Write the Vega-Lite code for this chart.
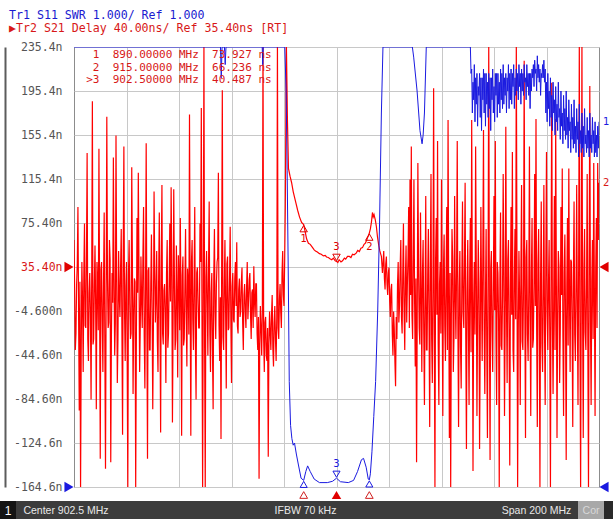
{
  "$schema": "https://vega.github.io/schema/vega-lite/v6.json",
  "background": "white",
  "padding": {"top": 10, "left": 0, "right": 0, "bottom": 0},
  "title": {
    "text": "\u00a0Tr1 S11 SWR 1.000/ Ref 1.000",
    "subtitle": "\u25b6Tr2 S21 Delay 40.00ns/ Ref 35.40ns [RT]",
    "anchor": "start", "frame": "group", "dx": 9, "offset": 6,
    "font": "DejaVu Sans Mono", "fontSize": 11.6, "fontWeight": "normal", "color": "#1a1ad0",
    "subtitleFont": "DejaVu Sans Mono", "subtitleFontSize": 11.6, "subtitleColor": "#d81818", "subtitlePadding": 1.4
  },
  "datasets": {
    "red": [
      {"f":802.5,"v":60},{"f":802.75,"v":15},{"f":803,"v":-40},{"f":803.25,"v":-25},{"f":803.5,"v":20},{"f":803.75,"v":38},{"f":804,"v":90},{"f":804.25,"v":-8},{"f":804.5,"v":-95},{"f":804.75,"v":22},
      {"f":805,"v":-165},{"f":805.25,"v":-40},{"f":805.5,"v":40},{"f":805.75,"v":5},{"f":806,"v":-60},{"f":806.25,"v":30},{"f":806.5,"v":75},{"f":806.75,"v":-18},{"f":807,"v":-20},{"f":807.25,"v":45},
      {"f":807.5,"v":139},{"f":807.75,"v":-30},{"f":808,"v":-50},{"f":808.25,"v":12},{"f":808.5,"v":30},{"f":808.75,"v":-5},{"f":809,"v":-85},{"f":809.25,"v":28},{"f":809.5,"v":186},{"f":809.75,"v":-35},
      {"f":810,"v":-30},{"f":810.25,"v":18},{"f":810.5,"v":55},{"f":810.75,"v":0},{"f":811,"v":-94},{"f":811.25,"v":40},{"f":811.5,"v":20},{"f":811.75,"v":-22},{"f":812,"v":143},{"f":812.25,"v":8},
      {"f":812.5,"v":-139},{"f":812.75,"v":33},{"f":813,"v":40},{"f":813.25,"v":-12},{"f":813.5,"v":-60},{"f":813.75,"v":20},{"f":814,"v":85},{"f":814.25,"v":-38},{"f":814.5,"v":-148},{"f":814.75,"v":10},
      {"f":815,"v":172},{"f":815.25,"v":25},{"f":815.5,"v":-20},{"f":815.75,"v":-15},{"f":816,"v":60},{"f":816.25,"v":42},{"f":816.5,"v":-142},{"f":816.75,"v":-28},{"f":817,"v":30},{"f":817.25,"v":3},
      {"f":817.5,"v":135},{"f":817.75,"v":25},{"f":818,"v":-45},{"f":818.25,"v":-15},{"f":818.5,"v":155},{"f":818.75,"v":30},{"f":819,"v":-70},{"f":819.25,"v":-30},{"f":819.5,"v":50},{"f":819.75,"v":10},
      {"f":820,"v":-10},{"f":820.25,"v":35},{"f":820.5,"v":70},{"f":820.75,"v":-20},{"f":821,"v":-117},{"f":821.25,"v":48},{"f":821.5,"v":145},{"f":821.75,"v":-5},{"f":822,"v":-50},{"f":822.25,"v":18},
      {"f":822.5,"v":40},{"f":822.75,"v":-42},{"f":823,"v":-165},{"f":823.25,"v":28},{"f":823.5,"v":60},{"f":823.75,"v":2},{"f":824,"v":-30},{"f":824.25,"v":-25},{"f":824.5,"v":126},{"f":824.75,"v":40},
      {"f":825,"v":-80},{"f":825.25,"v":-10},{"f":825.5,"v":25},{"f":825.75,"v":22},{"f":826,"v":-165},{"f":826.25,"v":-35},{"f":826.5,"v":80},{"f":826.75,"v":12},{"f":827,"v":121},{"f":827.25,"v":36},
      {"f":827.5,"v":-60},{"f":827.75,"v":-18},{"f":828,"v":45},{"f":828.25,"v":5},{"f":828.5,"v":-20},{"f":828.75,"v":44},{"f":829,"v":90},{"f":829.25,"v":-28},{"f":829.5,"v":-75},{"f":829.75,"v":16},
      {"f":830,"v":148},{"f":830.25,"v":-8},{"f":830.5,"v":-139},{"f":830.75,"v":32},{"f":831,"v":35},{"f":831.25,"v":-40},{"f":831.5,"v":-40},{"f":831.75,"v":20},{"f":832,"v":65},{"f":832.25,"v":-2},
      {"f":832.5,"v":-94},{"f":832.75,"v":-20},{"f":833,"v":104},{"f":833.25,"v":35},{"f":833.5,"v":-15},{"f":833.75,"v":8},{"f":834,"v":50},{"f":834.25,"v":-32},{"f":834.5,"v":-60},{"f":834.75,"v":26},
      {"f":835,"v":85},{"f":835.25,"v":-12},{"f":835.5,"v":-115},{"f":835.75,"v":42},{"f":836,"v":110},{"f":836.25,"v":-25},{"f":836.5,"v":-35},{"f":836.75,"v":14},{"f":837,"v":20},{"f":837.25,"v":-6},
      {"f":837.5,"v":-70},{"f":837.75,"v":30},{"f":838,"v":60},{"f":838.25,"v":-38},{"f":838.5,"v":-25},{"f":838.75,"v":20},{"f":839,"v":75},{"f":839.25,"v":4},{"f":839.5,"v":108},{"f":839.75,"v":38},
      {"f":840,"v":-106},{"f":840.25,"v":-16},{"f":840.5,"v":106},{"f":840.75,"v":24},{"f":841,"v":-40},{"f":841.25,"v":-30},{"f":841.5,"v":55},{"f":841.75,"v":10},{"f":842,"v":-65},{"f":842.25,"v":46},
      {"f":842.5,"v":30},{"f":842.75,"v":-22},{"f":843,"v":80},{"f":843.25,"v":6},{"f":843.5,"v":-118},{"f":843.75,"v":28},{"f":844,"v":45},{"f":844.25,"v":-36},{"f":844.5,"v":-30},{"f":844.75,"v":18},
      {"f":845,"v":70},{"f":845.25,"v":-10},{"f":845.5,"v":-55},{"f":845.75,"v":34},{"f":846,"v":20},{"f":846.25,"v":-26},{"f":846.5,"v":174},{"f":846.75,"v":12},{"f":847,"v":-118},{"f":847.25,"v":40},
      {"f":847.5,"v":60},{"f":847.75,"v":-12},{"f":848,"v":-40},{"f":848.25,"v":22},{"f":848.5,"v":90},{"f":848.75,"v":-34},{"f":849,"v":-85},{"f":849.25,"v":30},{"f":849.5,"v":35},{"f":849.75,"v":6},
      {"f":850,"v":-20},{"f":850.25,"v":-20},{"f":850.5,"v":75},{"f":850.75,"v":40},{"f":851,"v":180},{"f":851.25,"v":-8},{"f":851.5,"v":-165},{"f":851.75,"v":16},{"f":852,"v":240},{"f":852.25,"v":-30},
      {"f":852.5,"v":-165},{"f":852.75,"v":26},{"f":853,"v":50},{"f":853.25,"v":2},{"f":853.5,"v":-45},{"f":853.75,"v":36},{"f":854,"v":95},{"f":854.25,"v":-24},{"f":854.5,"v":-60},{"f":854.75,"v":12},
      {"f":855,"v":30},{"f":855.25,"v":-40},{"f":855.5,"v":-94},{"f":855.75,"v":28},{"f":856,"v":70},{"f":856.25,"v":-6},{"f":856.5,"v":-30},{"f":856.75,"v":20},{"f":857,"v":40},{"f":857.25,"v":44},
      {"f":857.5,"v":121},{"f":857.75,"v":-18},{"f":858,"v":-50},{"f":858.25,"v":8},{"f":858.5,"v":-121},{"f":858.75,"v":32},{"f":859,"v":196},{"f":859.25,"v":-28},{"f":859.5,"v":-40},{"f":859.75,"v":14},
      {"f":860,"v":60},{"f":860.25,"v":-2},{"f":860.5,"v":-75},{"f":860.75,"v":38},{"f":861,"v":45},{"f":861.25,"v":-22},{"f":861.5,"v":-20},{"f":861.75,"v":24},{"f":862,"v":72},{"f":862.25,"v":-14},
      {"f":862.5,"v":-70},{"f":862.75,"v":18},{"f":863,"v":30},{"f":863.25,"v":-12},{"f":863.5,"v":-15},{"f":863.75,"v":25},{"f":864,"v":40},{"f":864.25,"v":0},{"f":864.5,"v":58},{"f":864.75,"v":-18},
      {"f":865,"v":-25},{"f":865.25,"v":15},{"f":865.5,"v":25},{"f":865.75,"v":-10},{"f":866,"v":-5},{"f":866.25,"v":22},{"f":866.5,"v":35},{"f":866.75,"v":-15},{"f":867,"v":-40},{"f":867.25,"v":10},
      {"f":867.5,"v":20},{"f":867.75,"v":-5},{"f":868,"v":-20},{"f":868.25,"v":18},{"f":868.5,"v":40},{"f":868.75,"v":-12},{"f":869,"v":5},{"f":869.25,"v":24},{"f":869.5,"v":30},{"f":869.75,"v":-8},
      {"f":870,"v":-30},{"f":870.25,"v":12},{"f":870.5,"v":15},{"f":870.75,"v":-20},{"f":871,"v":36},{"f":871.25,"v":5},{"f":871.5,"v":-10},{"f":871.75,"v":20},{"f":872,"v":20},{"f":872.25,"v":-25},
      {"f":872.5,"v":-40},{"f":872.75,"v":-10},{"f":873,"v":-157},{"f":873.25,"v":-35},{"f":873.5,"v":0},{"f":873.75,"v":-20},{"f":874,"v":-45},{"f":874.25,"v":-5},{"f":874.5,"v":240},{"f":874.75,"v":-30},
      {"f":875,"v":-60},{"f":875.25,"v":-15},{"f":875.5,"v":-10},{"f":875.75,"v":-45},{"f":876,"v":-50},{"f":876.25,"v":-20},{"f":876.5,"v":-137},{"f":876.75,"v":-35},{"f":877,"v":-5},{"f":877.25,"v":-25},
      {"f":877.5,"v":-40},{"f":877.75,"v":-8},{"f":878,"v":10},{"f":878.25,"v":-38},{"f":878.5,"v":-55},{"f":878.75,"v":-15},{"f":879,"v":0},{"f":879.25,"v":-30},{"f":879.5,"v":-50},{"f":879.75,"v":-10},
      {"f":880,"v":240},{"f":880.25,"v":-20},{"f":880.5,"v":-30},{"f":880.75,"v":5},{"f":881,"v":20},{"f":881.25,"v":-5},{"f":881.5,"v":-20},{"f":881.75,"v":30},{"f":882,"v":50},{"f":882.25,"v":10},
      {"f":882.5,"v":0},{"f":882.75,"v":40},{"f":883,"v":90},{"f":883.4,"v":240},{"f":883.8,"v":170},{"f":884.2,"v":125},{"f":884.8,"v":118},{"f":885.4,"v":112},{"f":886,"v":104},{"f":886.5,"v":99},
      {"f":887.1,"v":93},{"f":887.7,"v":87},{"f":888.4,"v":81},{"f":889.2,"v":76},{"f":890,"v":73.9},{"f":890.6,"v":67},{"f":891.1,"v":61},{"f":891.8,"v":57},{"f":892.5,"v":56},{"f":893.4,"v":53},
      {"f":894,"v":51},{"f":894.5,"v":50},{"f":895.2,"v":49},{"f":896,"v":47.5},{"f":896.7,"v":47},{"f":897.5,"v":45.5},{"f":898.2,"v":46},{"f":898.7,"v":44.5},{"f":899.4,"v":44},{"f":900,"v":43},
      {"f":900.7,"v":42},{"f":901.3,"v":43.5},{"f":902,"v":41},{"f":902.5,"v":40.5},{"f":903,"v":39.5},{"f":903.5,"v":42},{"f":904.2,"v":40},{"f":904.8,"v":41},{"f":905.5,"v":43.5},{"f":906,"v":42.5},
      {"f":906.7,"v":45},{"f":907.4,"v":45},{"f":908,"v":44},{"f":908.6,"v":47},{"f":909.2,"v":46.5},{"f":910,"v":48},{"f":910.6,"v":50.5},{"f":911.2,"v":49.5},{"f":911.8,"v":52.5},{"f":912.4,"v":53},
      {"f":913,"v":56},{"f":913.5,"v":57},{"f":914,"v":60},{"f":914.3,"v":62},{"f":914.7,"v":64},{"f":915,"v":66.2},{"f":915.4,"v":70},{"f":915.8,"v":76},{"f":916.2,"v":85},{"f":916.5,"v":81},
      {"f":916.8,"v":83},{"f":917.3,"v":78},{"f":917.7,"v":72},{"f":918.1,"v":63},{"f":918.6,"v":55},{"f":919,"v":50},{"f":919.6,"v":45},
      {"f":920,"v":30},{"f":920.25,"v":40},{"f":920.5,"v":50},{"f":920.75,"v":25},{"f":921,"v":15},{"f":921.25,"v":38},{"f":921.5,"v":45},{"f":921.75,"v":20},{"f":922,"v":10},{"f":922.25,"v":30},
      {"f":922.5,"v":35},{"f":922.75,"v":5},{"f":923,"v":-10},{"f":923.25,"v":15},{"f":923.5,"v":20},{"f":923.75,"v":-25},{"f":924,"v":-45},{"f":924.25,"v":-5},{"f":924.5,"v":-20},{"f":924.75,"v":-50},
      {"f":925,"v":-73},{"f":925.25,"v":-10},{"f":925.5,"v":-30},{"f":925.75,"v":20},{"f":926,"v":40},{"f":926.25,"v":-15},{"f":926.5,"v":0},{"f":926.75,"v":35},{"f":927,"v":60},{"f":927.25,"v":-10},
      {"f":927.5,"v":-25},{"f":927.75,"v":30},{"f":928,"v":75},{"f":928.25,"v":-5},{"f":928.5,"v":-40},{"f":928.75,"v":25},{"f":929,"v":55},{"f":929.25,"v":-15},{"f":929.5,"v":20},{"f":929.75,"v":45},
      {"f":930,"v":90},{"f":930.25,"v":-20},{"f":930.5,"v":115},{"f":930.75,"v":10},{"f":931,"v":145},{"f":931.25,"v":-8},{"f":931.5,"v":-30},{"f":931.75,"v":40},{"f":932,"v":115},{"f":932.25,"v":5},
      {"f":932.5,"v":-55},{"f":932.75,"v":25},{"f":933,"v":-142},{"f":933.25,"v":-10},{"f":933.5,"v":130},{"f":933.75,"v":35},{"f":934,"v":-20},{"f":934.25,"v":-35},{"f":934.5,"v":85},{"f":934.75,"v":15},
      {"f":935,"v":-60},{"f":935.25,"v":30},{"f":935.5,"v":60},{"f":935.75,"v":-25},{"f":936,"v":-90},{"f":936.25,"v":10},{"f":936.5,"v":100},{"f":936.75,"v":-40},{"f":937,"v":-40},{"f":937.25,"v":28},
      {"f":937.5,"v":70},{"f":937.75,"v":-15},{"f":938,"v":-110},{"f":938.25,"v":38},{"f":938.5,"v":120},{"f":938.75,"v":-30},{"f":939,"v":-70},{"f":939.25,"v":12},{"f":939.5,"v":198},{"f":939.75,"v":-20},
      {"f":940,"v":-165},{"f":940.25,"v":42},{"f":940.5,"v":80},{"f":940.75,"v":-8},{"f":941,"v":150},{"f":941.25,"v":-35},{"f":941.5,"v":-90},{"f":941.75,"v":20},{"f":942,"v":40},{"f":942.25,"v":-25},
      {"f":942.5,"v":115},{"f":942.75,"v":5},{"f":943,"v":-100},{"f":943.25,"v":34},{"f":943.5,"v":65},{"f":943.75,"v":-18},{"f":944,"v":-50},{"f":944.25,"v":26},{"f":944.5,"v":90},{"f":944.75,"v":-40},
      {"f":945,"v":169},{"f":945.25,"v":10},{"f":945.5,"v":-120},{"f":945.75,"v":30},{"f":946,"v":-165},{"f":946.25,"v":-12},{"f":946.5,"v":70},{"f":946.75,"v":44},{"f":947,"v":-60},{"f":947.25,"v":-28},
      {"f":947.5,"v":100},{"f":947.75,"v":8},{"f":948,"v":-30},{"f":948.25,"v":36},{"f":948.5,"v":150},{"f":948.75,"v":-22},{"f":949,"v":-110},{"f":949.25,"v":16},{"f":949.5,"v":50},{"f":949.75,"v":-38},
      {"f":950,"v":-75},{"f":950.25,"v":24},{"f":950.5,"v":95},{"f":950.75,"v":-6},{"f":951,"v":-20},{"f":951.25,"v":40},{"f":951.5,"v":112},{"f":951.75,"v":-30},{"f":952,"v":-130},{"f":952.25,"v":12},
      {"f":952.5,"v":60},{"f":952.75,"v":-16},{"f":953,"v":-90},{"f":953.25,"v":32},{"f":953.5,"v":80},{"f":953.75,"v":-42},{"f":954,"v":169},{"f":954.25,"v":20},{"f":954.5,"v":-150},{"f":954.75,"v":2},
      {"f":955,"v":40},{"f":955.25,"v":-26},{"f":955.5,"v":145},{"f":955.75,"v":38},{"f":956,"v":-100},{"f":956.25,"v":-10},{"f":956.5,"v":60},{"f":956.75,"v":22},{"f":957,"v":-130},{"f":957.25,"v":-34},
      {"f":957.5,"v":90},{"f":957.75,"v":14},{"f":958,"v":-50},{"f":958.25,"v":46},{"f":958.5,"v":160},{"f":958.75,"v":-20},{"f":959,"v":-80},{"f":959.25,"v":6},{"f":959.5,"v":70},{"f":959.75,"v":-38},
      {"f":960,"v":-120},{"f":960.25,"v":28},{"f":960.5,"v":240},{"f":960.75,"v":-12},{"f":961,"v":-140},{"f":961.25,"v":34},{"f":961.5,"v":50},{"f":961.75,"v":-24},{"f":962,"v":-60},{"f":962.25,"v":18},
      {"f":962.5,"v":100},{"f":962.75,"v":-4},{"f":963,"v":150},{"f":963.25,"v":-30},{"f":963.5,"v":-90},{"f":963.75,"v":40},{"f":964,"v":30},{"f":964.25,"v":-14},{"f":964.5,"v":-165},{"f":964.75,"v":24},
      {"f":965,"v":85},{"f":965.25,"v":-36},{"f":965.5,"v":-40},{"f":965.75,"v":10},{"f":966,"v":120},{"f":966.25,"v":30},{"f":966.5,"v":-100},{"f":966.75,"v":-18},{"f":967,"v":163},{"f":967.25,"v":4},
      {"f":967.5,"v":-70},{"f":967.75,"v":42},{"f":968,"v":60},{"f":968.25,"v":-28},{"f":968.5,"v":-145},{"f":968.75,"v":16},{"f":969,"v":90},{"f":969.25,"v":-8},{"f":969.5,"v":140},{"f":969.75,"v":-40},
      {"f":970,"v":-60},{"f":970.25,"v":26},{"f":970.5,"v":70},{"f":970.75,"v":-12},{"f":971,"v":240},{"f":971.25,"v":36},{"f":971.5,"v":-165},{"f":971.75,"v":-22},{"f":972,"v":50},{"f":972.25,"v":8},
      {"f":972.5,"v":-90},{"f":972.75,"v":32},{"f":973,"v":110},{"f":973.25,"v":-32},{"f":973.5,"v":-40},{"f":973.75,"v":20},{"f":974,"v":223},{"f":974.25,"v":-4},{"f":974.5,"v":-120},{"f":974.75,"v":44},
      {"f":975,"v":60},{"f":975.25,"v":-26},{"f":975.5,"v":-50},{"f":975.75,"v":14},{"f":976,"v":145},{"f":976.25,"v":-14},{"f":976.5,"v":-100},{"f":976.75,"v":30},{"f":977,"v":80},{"f":977.25,"v":-38},
      {"f":977.5,"v":-30},{"f":977.75,"v":22},{"f":978,"v":120},{"f":978.25,"v":0},{"f":978.5,"v":170},{"f":978.75,"v":-20},{"f":979,"v":-110},{"f":979.25,"v":38},{"f":979.5,"v":70},{"f":979.75,"v":-10},
      {"f":980,"v":-165},{"f":980.25,"v":26},{"f":980.5,"v":95},{"f":980.75,"v":-34},{"f":981,"v":-60},{"f":981.25,"v":12},{"f":981.5,"v":110},{"f":981.75,"v":-24},{"f":982,"v":-90},{"f":982.25,"v":40},
      {"f":982.5,"v":140},{"f":982.75,"v":-6},{"f":983,"v":-40},{"f":983.25,"v":18},{"f":983.5,"v":60},{"f":983.75,"v":-30},{"f":984,"v":-165},{"f":984.25,"v":34},{"f":984.5,"v":203},{"f":984.75,"v":-16},
      {"f":985,"v":-80},{"f":985.25,"v":6},{"f":985.5,"v":100},{"f":985.75,"v":-40},{"f":986,"v":170},{"f":986.25,"v":24},{"f":986.5,"v":-120},{"f":986.75,"v":-8},{"f":987,"v":50},{"f":987.25,"v":36},
      {"f":987.5,"v":-70},{"f":987.75,"v":-22},{"f":988,"v":90},{"f":988.25,"v":10},{"f":988.5,"v":125},{"f":988.75,"v":-28},{"f":989,"v":-100},{"f":989.25,"v":30},{"f":989.5,"v":65},{"f":989.75,"v":-12},
      {"f":990,"v":-140},{"f":990.25,"v":20},{"f":990.5,"v":80},{"f":990.75,"v":-36},{"f":991,"v":125},{"f":991.25,"v":8},{"f":991.5,"v":-60},{"f":991.75,"v":42},{"f":992,"v":40},{"f":992.25,"v":-18},
      {"f":992.5,"v":-110},{"f":992.75,"v":28},{"f":993,"v":95},{"f":993.25,"v":-26},{"f":993.5,"v":-50},{"f":993.75,"v":14},{"f":994,"v":110},{"f":994.25,"v":-4},{"f":994.5,"v":-90},{"f":994.75,"v":36},
      {"f":995,"v":240},{"f":995.25,"v":-30},{"f":995.5,"v":-165},{"f":995.75,"v":20},{"f":996,"v":240},{"f":996.25,"v":-10},{"f":996.5,"v":-120},{"f":996.75,"v":32},{"f":997,"v":70},{"f":997.25,"v":-24},
      {"f":997.5,"v":-40},{"f":997.75,"v":16},{"f":998,"v":120},{"f":998.25,"v":-36},{"f":998.5,"v":-165},{"f":998.75,"v":40},{"f":999,"v":200},{"f":999.25,"v":-14},{"f":999.5,"v":-90},{"f":999.75,"v":22},
      {"f":1000,"v":60},{"f":1000.25,"v":-30},{"f":1000.5,"v":130},{"f":1000.75,"v":10},{"f":1001,"v":-100},{"f":1001.25,"v":34},{"f":1001.5,"v":80},{"f":1001.75,"v":-20},{"f":1002,"v":130},{"f":1002.25,"v":60},
      {"f":1002.5,"v":112}
    ],
    "blue": [
      {"f":802.5,"s":11},{"f":858.3,"s":11},{"f":858.6,"s":10.3},{"f":858.9,"s":11},{"f":859.8,"s":11},{"f":860.1,"s":10.6},{"f":860.4,"s":11},{"f":874.2,"s":11},{"f":874.4,"s":10.6},{"f":874.6,"s":11},
      {"f":882.8,"s":11},{"f":883.3,"s":10},{"f":883.7,"s":8.2},{"f":884.1,"s":6},{"f":884.5,"s":3.4},{"f":885,"s":2.4},{"f":885.5,"s":2.1},{"f":886,"s":1.95},{"f":886.5,"s":2},{"f":887.2,"s":1.75},
      {"f":888,"s":1.5},{"f":889,"s":1.2},{"f":890,"s":1.15},{"f":890.8,"s":1.35},{"f":891.5,"s":1.48},{"f":892.5,"s":1.35},{"f":894,"s":1.18},{"f":896,"s":1.1},{"f":899,"s":1.1},{"f":901,"s":1.13},
      {"f":902.5,"s":1.2},{"f":904,"s":1.12},{"f":907,"s":1.1},{"f":909,"s":1.15},{"f":910.5,"s":1.35},{"f":912,"s":1.62},{"f":912.8,"s":1.65},{"f":913.8,"s":1.45},{"f":914.6,"s":1.18},{"f":915,"s":1.16},
      {"f":915.4,"s":1.3},{"f":916,"s":1.8},{"f":916.7,"s":2.6},{"f":917.4,"s":3.4},{"f":918.2,"s":5},{"f":918.9,"s":7},{"f":919.6,"s":9.5},{"f":920.2,"s":11},{"f":931.4,"s":11},{"f":931.9,"s":10.77},
      {"f":933.2,"s":10},{"f":934.3,"s":9.1},{"f":935.1,"s":8.8},{"f":935.5,"s":9},{"f":936,"s":9.5},{"f":936.7,"s":11},{"f":953.5,"s":11},
      {"f":953.75,"s":10.4},{"f":954,"s":10.5},{"f":954.25,"s":9.5},{"f":954.5,"s":10.2},{"f":954.75,"s":9.8},{"f":955,"s":10.6},{"f":955.25,"s":9.3},{"f":955.5,"s":10.3},{"f":955.75,"s":9.7},{"f":956,"s":10.4},
      {"f":956.25,"s":9.2},{"f":956.5,"s":10.1},{"f":956.75,"s":9.9},{"f":957,"s":10.4},{"f":957.25,"s":9.4},{"f":957.5,"s":10.3},{"f":957.75,"s":9.1},{"f":958,"s":10.3},{"f":958.25,"s":9.8},{"f":958.5,"s":10.5},
      {"f":958.75,"s":9.5},{"f":959,"s":10.4},{"f":959.25,"s":9.2},{"f":959.5,"s":10.4},{"f":959.75,"s":9.7},{"f":960,"s":10.2},{"f":960.25,"s":9.4},{"f":960.5,"s":10.4},{"f":960.75,"s":9.6},{"f":961,"s":10.3},
      {"f":961.25,"s":9.1},{"f":961.5,"s":10.3},{"f":961.75,"s":9.8},{"f":962,"s":10.5},{"f":962.25,"s":9.5},{"f":962.5,"s":10.1},{"f":962.75,"s":9.3},{"f":963,"s":10.4},{"f":963.25,"s":9.9},{"f":963.5,"s":10.4},
      {"f":963.75,"s":9.4},{"f":964,"s":10.4},{"f":964.25,"s":9.7},{"f":964.5,"s":10.2},{"f":964.75,"s":9.5},{"f":965,"s":10.5},{"f":965.25,"s":9.8},{"f":965.5,"s":10.4},{"f":965.75,"s":9.6},{"f":966,"s":10.6},
      {"f":966.25,"s":9.7},{"f":966.5,"s":10.3},{"f":966.75,"s":9.9},{"f":967,"s":10.4},{"f":967.25,"s":9.5},{"f":967.5,"s":10.3},{"f":967.75,"s":10},{"f":968,"s":10.6},{"f":968.25,"s":9.6},{"f":968.5,"s":10.4},
      {"f":968.75,"s":9.8},{"f":969,"s":10.5},{"f":969.25,"s":9.7},{"f":969.5,"s":10.4},{"f":969.75,"s":10.1},{"f":970,"s":10.6},{"f":970.25,"s":9.6},{"f":970.5,"s":10.3},{"f":970.75,"s":9.9},{"f":971,"s":10.5},
      {"f":971.25,"s":10},{"f":971.5,"s":10.4},{"f":971.75,"s":9.8},{"f":972,"s":10.6},{"f":972.25,"s":10.1},{"f":972.5,"s":10.4},{"f":972.75,"s":9.7},{"f":973,"s":10.5},{"f":973.25,"s":10},{"f":973.5,"s":10.4},
      {"f":973.75,"s":9.9},{"f":974,"s":10.6},{"f":974.25,"s":10.2},{"f":974.5,"s":10.3},{"f":974.75,"s":9.8},{"f":975,"s":10.6},{"f":975.25,"s":10.1},{"f":975.5,"s":10.4},{"f":975.75,"s":9.9},{"f":976,"s":10.4},
      {"f":976.25,"s":9.6},{"f":976.5,"s":10.4},{"f":976.75,"s":10},{"f":977,"s":10.5},{"f":977.25,"s":10.3},{"f":977.5,"s":10.6},{"f":977.75,"s":10.1},{"f":978,"s":10.7},{"f":978.25,"s":10.4},{"f":978.5,"s":10.5},
      {"f":978.75,"s":10},{"f":979,"s":10.8},{"f":979.25,"s":10.3},{"f":979.5,"s":10.6},{"f":979.75,"s":10.2},{"f":980,"s":10.5},{"f":980.25,"s":9.9},{"f":980.5,"s":10.4},{"f":980.75,"s":10.3},{"f":981,"s":10.6},
      {"f":981.25,"s":10.3},{"f":981.5,"s":10.7},{"f":981.75,"s":10.2},{"f":982,"s":10.5},{"f":982.25,"s":9.5},{"f":982.5,"s":10.2},{"f":982.75,"s":9.3},{"f":983,"s":10.4},{"f":983.25,"s":9.6},{"f":983.5,"s":10},
      {"f":983.75,"s":9.2},{"f":984,"s":10.3},{"f":984.25,"s":9.4},{"f":984.5,"s":9.9},{"f":984.75,"s":9.1},{"f":985,"s":10.2},{"f":985.25,"s":9.5},{"f":985.5,"s":9.8},{"f":985.75,"s":9},{"f":986,"s":10.1},
      {"f":986.25,"s":9.3},{"f":986.5,"s":9.7},{"f":986.75,"s":9.1},{"f":987,"s":10.2},{"f":987.25,"s":9.4},{"f":987.5,"s":9.6},{"f":987.75,"s":8.9},{"f":988,"s":10},{"f":988.25,"s":9.2},{"f":988.5,"s":9.5},
      {"f":988.75,"s":8.8},{"f":989,"s":9.9},{"f":989.25,"s":9.1},{"f":989.5,"s":9.6},{"f":989.75,"s":8.9},{"f":990,"s":10},{"f":990.25,"s":9},{"f":990.5,"s":9.4},{"f":990.75,"s":8.7},{"f":991,"s":9.8},
      {"f":991.25,"s":9.1},{"f":991.5,"s":9.3},{"f":991.75,"s":8.6},{"f":992,"s":9.7},{"f":992.25,"s":8.9},{"f":992.5,"s":9.4},{"f":992.75,"s":8.7},{"f":993,"s":9.8},{"f":993.25,"s":8.8},{"f":993.5,"s":9.2},
      {"f":993.75,"s":8.6},{"f":994,"s":9.6},{"f":994.25,"s":8.9},{"f":994.5,"s":9.3},{"f":994.75,"s":8.5},{"f":995,"s":9.7},{"f":995.25,"s":8.8},{"f":995.5,"s":9.1},{"f":995.75,"s":8.6},{"f":996,"s":9.5},
      {"f":996.25,"s":8.7},{"f":996.5,"s":9.2},{"f":996.75,"s":8.5},{"f":997,"s":9.6},{"f":997.25,"s":8.8},{"f":997.5,"s":9},{"f":997.75,"s":8.6},{"f":998,"s":9.4},{"f":998.25,"s":8.7},{"f":998.5,"s":9.1},
      {"f":998.75,"s":8.5},{"f":999,"s":9.5},{"f":999.25,"s":8.7},{"f":999.5,"s":9},{"f":999.75,"s":8.6},{"f":1000,"s":9.4},{"f":1000.25,"s":8.8},{"f":1000.5,"s":9.1},{"f":1000.75,"s":8.5},{"f":1001,"s":9.3},
      {"f":1001.25,"s":8.6},{"f":1001.5,"s":9},{"f":1001.75,"s":8.5},{"f":1002,"s":9.2},{"f":1002.25,"s":8.7},{"f":1002.5,"s":9.3}
    ],
    "mk": [
      {"id":"1","f":890,"v":73.927,"s":1.15},
      {"id":"2","f":915,"v":66.236,"s":1.16},
      {"id":"3","f":902.5,"v":40.487,"s":1.2}
    ],
    "tbl": [
      {"id":"1","line":"1\u00a0\u00a0890.00000 MHz\u00a0\u00a073.927 ns"},
      {"id":"2","line":"2\u00a0\u00a0915.00000 MHz\u00a0\u00a066.236 ns"},
      {"id":"3","line":">3\u00a0\u00a0902.50000 MHz\u00a0\u00a040.487 ns"}
    ],
    "refs": [
      {"tr":"Tr2","lvl":35.4,"swr":null,"lo":802.5,"hi":1002.5},
      {"tr":"Tr1","lvl":-164.6,"swr":1,"lo":802.5,"hi":1002.5}
    ]
  },
  "vconcat": [
    {
      "hconcat": [
        {
          "width": 74,
          "height": 440,
          "view": {"stroke": null},
          "resolve": {"scale": {"y": "independent"}},
          "layer": [
            {
              "data": {"name": "refs"},
              "transform": [{"filter": "datum.tr == 'Tr2'"}],
              "mark": {"type": "point", "shape": "triangle-right", "filled": true, "size": 110, "opacity": 1, "xOffset": -5, "color": "#e00000"},
              "encoding": {
                "x": {"field": "lo", "type": "quantitative", "scale": {"domain": [774.3, 802.5], "nice": false, "zero": false}, "axis": null},
                "y": {"field": "lvl", "type": "quantitative",
                      "scale": {"domain": [-164.6, 235.4], "nice": false, "zero": false},
                      "axis": {"orient": "left", "offset": -62, "values": [-164.6,-124.6,-84.6,-44.6,-4.6,35.4,75.4,115.4,155.4,195.4,235.4],
                               "labelExpr": "replace(format(datum.value, '.4r'), '\u2212', '-') + 'n'",
                               "labelOverlap": false, "labelFont": "DejaVu Sans Mono", "labelFontSize": 11.5,
                               "labelColor": {"condition": {"test": "datum.value == 35.4", "value": "#d81818"}, "value": "#555555"},
                               "labelPadding": 0, "ticks": false, "domain": false, "grid": false, "title": null}}
              }
            },
            {
              "data": {"name": "refs"},
              "transform": [{"filter": "datum.tr == 'Tr1'"}],
              "mark": {"type": "point", "shape": "triangle-right", "filled": true, "size": 110, "opacity": 1, "xOffset": -5, "color": "#1a1ae0"},
              "encoding": {
                "x": {"field": "lo", "type": "quantitative"},
                "y": {"field": "swr", "type": "quantitative",
                      "scale": {"domain": [1, 11], "nice": false, "zero": false},
                      "axis": {"orient": "left", "offset": -5, "domain": true, "domainColor": "#5c5c5c", "domainWidth": 2, "labels": false, "ticks": false, "grid": false, "title": null}}
              }
            }
          ]
        },
        {
          "width": 525,
          "height": 440,
          "view": {"stroke": "#8c8c8c", "strokeWidth": 1},
          "resolve": {"scale": {"y": "independent"}},
          "layer": [
            {
              "data": {"name": "red"},
              "mark": {"type": "line", "color": "#ff0000", "strokeWidth": 1.2, "clip": true},
              "encoding": {
                "x": {"field": "f", "type": "quantitative",
                      "scale": {"domain": [802.5, 1002.5], "nice": false, "zero": false},
                      "axis": {"values": [822.5,842.5,862.5,882.5,902.5,922.5,942.5,962.5,982.5], "labels": false, "ticks": false, "domain": false, "grid": true, "gridColor": "#c8c8c8", "title": null}},
                "y": {"field": "v", "type": "quantitative",
                      "scale": {"domain": [-164.6, 235.4], "nice": false, "zero": false},
                      "axis": {"values": [-164.6,-124.6,-84.6,-44.6,-4.6,35.4,75.4,115.4,155.4,195.4,235.4], "labels": false, "ticks": false, "domain": false, "grid": true, "gridColor": "#c8c8c8", "title": null}}
              }
            },
            {
              "data": {"name": "blue"},
              "mark": {"type": "line", "color": "#1a1ae0", "strokeWidth": 1, "clip": true},
              "encoding": {
                "x": {"field": "f", "type": "quantitative"},
                "y": {"field": "s", "type": "quantitative", "scale": {"domain": [1, 11], "nice": false, "zero": false}, "axis": null}
              }
            },
            {
              "data": {"name": "mk"},
              "transform": [{"filter": "datum.id != '3'"}],
              "mark": {"type": "point", "shape": "triangle-up", "filled": false, "color": "#e00000", "size": 55, "strokeWidth": 1, "opacity": 1, "yOffset": 4},
              "encoding": {
                "x": {"field": "f", "type": "quantitative"},
                "y": {"field": "v", "type": "quantitative", "scale": {"domain": [-164.6, 235.4], "nice": false, "zero": false}, "axis": null}
              }
            },
            {
              "data": {"name": "mk"},
              "transform": [{"filter": "datum.id != '3'"}],
              "mark": {"type": "text", "color": "#e00000", "font": "DejaVu Sans", "fontSize": 10, "dy": 14},
              "encoding": {
                "x": {"field": "f", "type": "quantitative"},
                "y": {"field": "v", "type": "quantitative", "scale": {"domain": [-164.6, 235.4], "nice": false, "zero": false}, "axis": null},
                "text": {"field": "id"}
              }
            },
            {
              "data": {"name": "mk"},
              "transform": [{"filter": "datum.id == '3'"}],
              "mark": {"type": "point", "shape": "triangle-down", "filled": false, "color": "#e00000", "size": 55, "strokeWidth": 1, "opacity": 1, "yOffset": -4},
              "encoding": {
                "x": {"field": "f", "type": "quantitative"},
                "y": {"field": "v", "type": "quantitative", "scale": {"domain": [-164.6, 235.4], "nice": false, "zero": false}, "axis": null}
              }
            },
            {
              "data": {"name": "mk"},
              "transform": [{"filter": "datum.id == '3'"}],
              "mark": {"type": "text", "color": "#e00000", "font": "DejaVu Sans", "fontSize": 10, "dy": -14},
              "encoding": {
                "x": {"field": "f", "type": "quantitative"},
                "y": {"field": "v", "type": "quantitative", "scale": {"domain": [-164.6, 235.4], "nice": false, "zero": false}, "axis": null},
                "text": {"field": "id"}
              }
            },
            {
              "data": {"name": "mk"},
              "transform": [{"filter": "datum.id != '3'"}],
              "mark": {"type": "point", "shape": "triangle-up", "filled": false, "color": "#1a1ae0", "size": 50, "strokeWidth": 1, "opacity": 1, "yOffset": 4},
              "encoding": {
                "x": {"field": "f", "type": "quantitative"},
                "y": {"field": "s", "type": "quantitative", "scale": {"domain": [1, 11], "nice": false, "zero": false}, "axis": null}
              }
            },
            {
              "data": {"name": "mk"},
              "transform": [{"filter": "datum.id == '3'"}],
              "mark": {"type": "point", "shape": "triangle-down", "filled": false, "color": "#1a1ae0", "size": 50, "strokeWidth": 1, "opacity": 1, "yOffset": -4},
              "encoding": {
                "x": {"field": "f", "type": "quantitative"},
                "y": {"field": "s", "type": "quantitative", "scale": {"domain": [1, 11], "nice": false, "zero": false}, "axis": null}
              }
            },
            {
              "data": {"name": "mk"},
              "transform": [{"filter": "datum.id == '3'"}],
              "mark": {"type": "text", "color": "#1a1ae0", "font": "DejaVu Sans", "fontSize": 10, "dy": -14},
              "encoding": {
                "x": {"field": "f", "type": "quantitative"},
                "y": {"field": "s", "type": "quantitative", "scale": {"domain": [1, 11], "nice": false, "zero": false}, "axis": null},
                "text": {"field": "id"}
              }
            },
            {
              "data": {"name": "mk"},
              "transform": [{"filter": "datum.id != '3'"}],
              "mark": {"type": "point", "shape": "triangle-up", "filled": false, "color": "#d02020", "size": 60, "strokeWidth": 1, "opacity": 1, "yOffset": 8},
              "encoding": {
                "x": {"field": "f", "type": "quantitative"},
                "y": {"datum": -164.6, "type": "quantitative", "scale": {"domain": [-164.6, 235.4], "nice": false, "zero": false}, "axis": null}
              }
            },
            {
              "data": {"name": "mk"},
              "transform": [{"filter": "datum.id == '3'"}],
              "mark": {"type": "point", "shape": "triangle-up", "filled": true, "color": "#e00000", "size": 90, "opacity": 1, "yOffset": 8},
              "encoding": {
                "x": {"field": "f", "type": "quantitative"},
                "y": {"datum": -164.6, "type": "quantitative", "scale": {"domain": [-164.6, 235.4], "nice": false, "zero": false}, "axis": null}
              }
            },
            {
              "data": {"name": "refs"},
              "mark": {"type": "point", "shape": "triangle-left", "filled": true, "size": 110, "opacity": 1, "xOffset": 5},
              "encoding": {
                "x": {"field": "hi", "type": "quantitative"},
                "y": {"field": "lvl", "type": "quantitative", "scale": {"domain": [-164.6, 235.4], "nice": false, "zero": false}, "axis": null},
                "color": {"field": "tr", "type": "nominal", "scale": {"domain": ["Tr1", "Tr2"], "range": ["#1a1ae0", "#e00000"]}, "legend": null}
              }
            },
            {
              "data": {"values": [{"t": "2", "f": 1002.5, "v": 112}]},
              "mark": {"type": "text", "color": "#d81818", "font": "DejaVu Sans", "fontSize": 10, "align": "left", "dx": 4},
              "encoding": {
                "x": {"field": "f", "type": "quantitative"},
                "y": {"field": "v", "type": "quantitative", "scale": {"domain": [-164.6, 235.4], "nice": false, "zero": false}, "axis": null},
                "text": {"field": "t"}
              }
            },
            {
              "data": {"values": [{"t": "1", "f": 1002.5, "s": 9.3}]},
              "mark": {"type": "text", "color": "#1a1ae0", "font": "DejaVu Sans", "fontSize": 10, "align": "left", "dx": 4},
              "encoding": {
                "x": {"field": "f", "type": "quantitative"},
                "y": {"field": "s", "type": "quantitative", "scale": {"domain": [1, 11], "nice": false, "zero": false}, "axis": null},
                "text": {"field": "t"}
              }
            },
            {
              "data": {"name": "tbl"},
              "mark": {"type": "text", "color": "#d81818", "font": "DejaVu Sans Mono", "fontSize": 11, "align": "right", "baseline": "middle"},
              "encoding": {
                "x": {"datum": 877.8, "type": "quantitative"},
                "y": {"field": "id", "type": "ordinal", "scale": {"domain": ["1", "2", "3"], "range": [8, 33], "padding": 0}, "axis": null},
                "text": {"field": "line"}
              }
            }
          ]
        }
      ],
      "spacing": 0,
      "bounds": "flush"
    },
    {
      "hconcat": [
        {"width": 16, "height": 19, "view": {"fill": "#141414", "stroke": null}, "data": {"values": [{"t": "1"}]},
         "mark": {"type": "text", "color": "#ffffff", "font": "Liberation Sans", "fontSize": 12, "baseline": "middle"}, "encoding": {"text": {"field": "t"}}},
        {"width": 100, "height": 19, "view": {"fill": "#3c3c3c", "stroke": null}, "data": {"values": [{"t": "Center 902.5 MHz"}]},
         "mark": {"type": "text", "color": "#e8e8e8", "font": "Liberation Sans", "fontSize": 10.5, "baseline": "middle"}, "encoding": {"text": {"field": "t"}}},
        {"width": 379, "height": 19, "view": {"fill": "#3c3c3c", "stroke": null}, "data": {"values": [{"t": "IFBW 70 kHz"}]},
         "mark": {"type": "text", "color": "#e8e8e8", "font": "Liberation Sans", "fontSize": 10.5, "baseline": "middle"}, "encoding": {"text": {"field": "t"}}},
        {"width": 83, "height": 19, "view": {"fill": "#3c3c3c", "stroke": null}, "data": {"values": [{"t": "Span 200 MHz"}]},
         "mark": {"type": "text", "color": "#e8e8e8", "font": "Liberation Sans", "fontSize": 10.5, "baseline": "middle"}, "encoding": {"text": {"field": "t"}}},
        {"width": 26, "height": 19, "view": {"fill": "#a8a8a8", "stroke": null}, "data": {"values": [{"t": "Cor"}]},
         "mark": {"type": "text", "color": "#d8d8d8", "font": "Liberation Sans", "fontSize": 10.5, "baseline": "middle"}, "encoding": {"text": {"field": "t"}}},
        {"width": 9, "height": 19, "view": {"fill": "#2a2a2a", "stroke": null}, "data": {"values": [{"t": ""}]},
         "mark": {"type": "text", "color": "#e8e8e8", "fontSize": 10}, "encoding": {"text": {"field": "t"}}}
      ],
      "spacing": 0,
      "bounds": "flush"
    }
  ],
  "spacing": 0,
  "bounds": "full"
}
